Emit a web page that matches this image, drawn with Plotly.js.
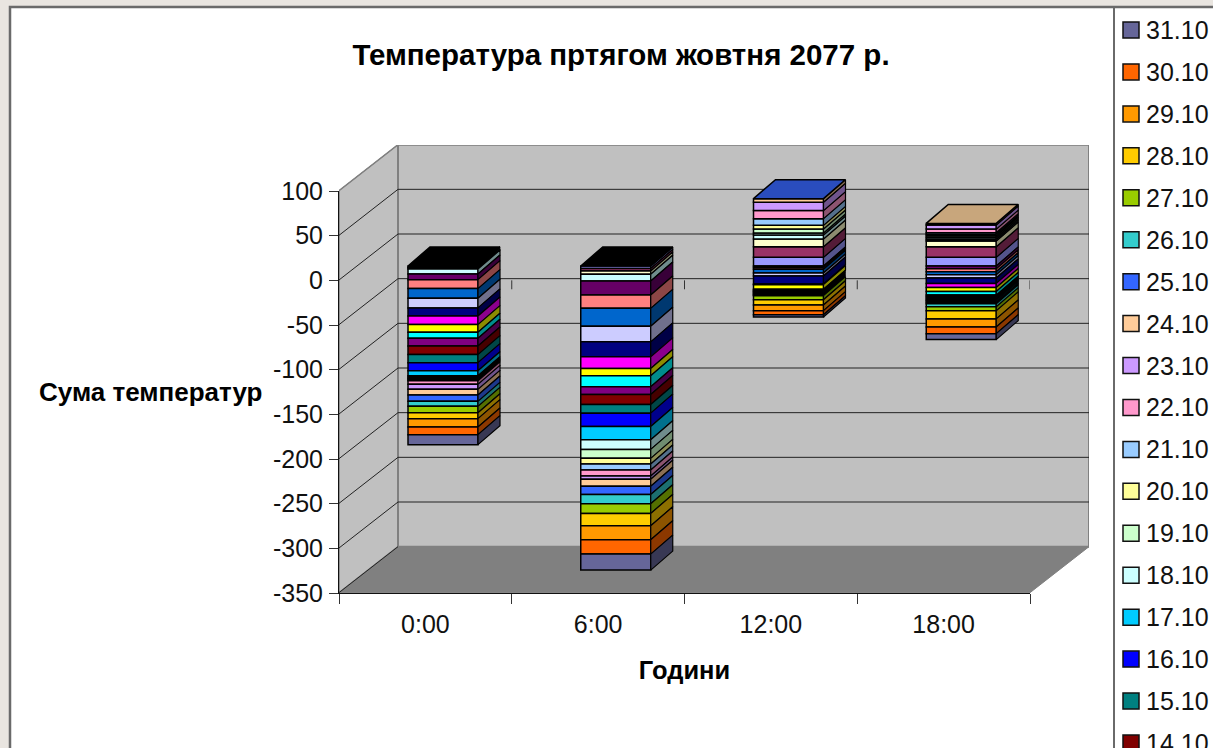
<!DOCTYPE html>
<html>
<head>
<meta charset="utf-8">
<script src="https://cdn.plot.ly/plotly-3.0.1.min.js"></script>
<style>html,body{margin:0;padding:0;overflow:hidden;background:#e9e5e0}</style>
</head>
<body>
<div id="chart" style="width:1213px;height:748px"></div>
<script>
// Daily temperatures at each observation hour, one array per day (°C).
const hours = ['0:00', '6:00', '12:00', '18:00'];
const d01 = [-1.0, -2.8, 9.7, 9.7];
const d02 = [-1.0, -2.8, 11.9, 11.9];
const d03 = [-1.4, -3.7, 8.6, 6.3];
const d04 = [-5.6, -7.5, 4.5, 1.8];
const d05 = [-6.3, -15.7, -1.8, -3.2];
const d06 = [-10, -14.9, -1.9, -3.2];
const d07 = [-10.8, -20, -4.1, -3.4];
const d08 = [-10.8, -17.5, -3.4, -3.7];
const d09 = [-9, -16.8, -9, -6];
const d10 = [-9.7, -13, -0.7, -4.5];
const d11 = [-8.6, -8.2, -5.2, -4.5];
const d12 = [-6.7, -12.3, -1, -4.1];
const d13 = [-8.6, -8.6, -0.9, -1.6];
const d14 = [-9.7, -11.2, -0.9, -1.6];
const d15 = [-9, -9.7, -0.9, -1.6];
const d16 = [-9, -14.9, -0.9, -1.6];
const d17 = [-5.6, -14.9, -0.9, -1.7];
const d18 = [-1.4, -10.8, 2.2, 1.9];
const d19 = [-1.4, -10, 4.5, 1.9];
const d20 = [-1.4, -6.3, 4.1, 1.9];
const d21 = [-1.4, -6.7, 7.5, 1.8];
const d22 = [-4.1, -6.7, 9, 4.1];
const d23 = [-5.6, -3.7, 9.3, 4.5];
const d24 = [-6.3, -7.8, 4.1, 1.9];
const d25 = [-7.1, -9.3, -0.8, -1.6];
const d26 = [-5.6, -10.4, -0.8, -3.4];
const d27 = [-7.1, -10.8, -4.5, -4.5];
const d28 = [-6.7, -13.8, -6, -9];
const d29 = [-9.3, -15.7, -6.3, -9];
const d30 = [-8.6, -16, -4.5, -7.5];
const d31 = [-11.2, -17.9, -2.6, -6.7];
const dayValues = [d01, d02, d03, d04, d05, d06, d07, d08, d09, d10, d11, d12, d13, d14, d15, d16,
  d17, d18, d19, d20, d21, d22, d23, d24, d25, d26, d27, d28, d29, d30, d31];
const dayNames = ['01.10', '02.10', '03.10', '04.10', '05.10', '06.10', '07.10', '08.10', '09.10', '10.10',
  '11.10', '12.10', '13.10', '14.10', '15.10', '16.10', '17.10', '18.10', '19.10', '20.10', '21.10',
  '22.10', '23.10', '24.10', '25.10', '26.10', '27.10', '28.10', '29.10', '30.10', '31.10'];
const dayColors = ['#9999FF', '#993366', '#FFFFCC', '#CCFFFF', '#660066', '#FF8080', '#0066CC', '#CCCCFF',
  '#000080', '#FF00FF', '#FFFF00', '#00FFFF', '#800080', '#800000', '#008080', '#0000FF', '#00CCFF',
  '#CCFFFF', '#CCFFCC', '#FFFF99', '#99CCFF', '#FF99CC', '#CC99FF', '#FFCC99', '#3366FF', '#33CCCC',
  '#99CC00', '#FFCC00', '#FF9900', '#FF6600', '#666699'];
const capColors = ['#000000', '#000000', '#2A4DBE', '#C8A67C'];
const valueTicks = [100, 50, 0, -50, -100, -150, -200, -250, -300, -350];
const valueTickText = ['100', '50', '0', '-50', '-100', '-150', '-200', '-250', '-300', '-350'];
const titleText = 'Температура пртягом жовтня 2077 р.';
const xTitleText = 'Години';
const yTitleText = 'Сума температур';

// Page geometry in pixels.
const W = 1213, H = 748;
const plotL = 339, plotR = 1089, plotT = 145, plotB = 593;
const frontR = 1030, frontT = 191;
const catPx = (frontR - plotL) / hours.length;
const unitPx = (plotB - frontT) / 450;
const barCentrePx = 443, barZeroPx = 266, frontZeroPx = 280;
const roomDepthX = 59, roomDepthY = 46;
const barDepthX = 22, barDepthY = 19;
const barWidthPx = 70;
const labelFont = {family: 'Liberation Sans', size: 25, color: '#111'};
const headFont = size => ({family: 'Liberation Sans', size: size, color: '#000', weight: 700});

const px = x => (x - plotL) / (plotR - plotL);
const py = y => (plotB - y) / (plotB - plotT);

// Oblique projection of the room into the bars' own coordinates.
const roomX = (edge, d) => edge - (barCentrePx - (plotL + catPx / 2)) / catPx + d * roomDepthX / catPx;
const roomY = (v, d) => v + (barZeroPx - frontZeroPx) / unitPx + d * roomDepthY / unitPx;
const poly = pts => ({
  type: 'path', xref: 'x', yref: 'y', layer: 'below',
  path: pts.map((p, i) => (i ? 'L' : 'M') + p[0] + ',' + p[1]).join(' ') + ' Z'
});
const eL = -0.5, eR = hours.length - 0.5, vLo = -350, vHi = 100;

const shapes = [
  // chart sheet and frame
  {type: 'rect', xref: 'paper', yref: 'paper', layer: 'below', x0: px(10), x1: px(W + 5), y0: py(7), y1: py(H + 5),
    fillcolor: '#ffffff', line: {color: '#6a6a6a', width: 2.5}},
  {type: 'line', xref: 'paper', yref: 'paper', layer: 'below', x0: px(1114), x1: px(1114), y0: py(7), y1: py(H + 5),
    line: {color: '#6a6a6a', width: 2}},
  // floor, side wall, back wall
  Object.assign(poly([[roomX(eL, 0), roomY(vLo, 0)], [roomX(eR, 0), roomY(vLo, 0)], [roomX(eR, 1), roomY(vLo, 1)], [roomX(eL, 1), roomY(vLo, 1)]]),
    {fillcolor: '#808080', line: {color: '#808080', width: 1}}),
  Object.assign(poly([[roomX(eL, 0), roomY(vLo, 0)], [roomX(eL, 0), roomY(vHi, 0)], [roomX(eL, 1), roomY(vHi, 1)], [roomX(eL, 1), roomY(vLo, 1)]]),
    {fillcolor: '#C0C0C0', line: {color: '#808080', width: 1.5}}),
  Object.assign(poly([[roomX(eL, 1), roomY(vLo, 1)], [roomX(eR, 1), roomY(vLo, 1)], [roomX(eR, 1), roomY(vHi, 1)], [roomX(eL, 1), roomY(vHi, 1)]]),
    {fillcolor: '#C0C0C0', line: {color: '#808080', width: 2}})
];
// value gridlines across the back wall and down the side wall
valueTicks.forEach(v => {
  const grid = {color: v === vHi ? '#808080' : '#222222', width: 1};
  if (v !== vLo) shapes.push({type: 'line', xref: 'x', yref: 'y', layer: 'below',
    x0: roomX(eL, 1), x1: roomX(eR, 1), y0: roomY(v, 1), y1: roomY(v, 1), line: grid});
  shapes.push({type: 'line', xref: 'x', yref: 'y', layer: 'below',
    x0: roomX(eL, 0), x1: roomX(eL, 1), y0: roomY(v, 0), y1: roomY(v, 1), line: grid});
});
// category axis ticks where it crosses zero on the front plane
for (let i = 0; i < hours.length; i++) {
  shapes.push({type: 'line', xref: 'x2', yref: 'y2', x0: i + 0.5, x1: i + 0.5, y0: 0, y1: -10,
    line: {color: '#333333', width: 1}});
}

const shade = hex => {
  const n = parseInt(hex.slice(1), 16), f = 0.55;
  return `rgb(${Math.round((n >> 16) * f)},${Math.round(((n >> 8) & 255) * f)},${Math.round((n & 255) * f)})`;
};

const traces = [];
const xIdx = hours.map((_, i) => i);
const halfW = barWidthPx / catPx / 2;
const dxC = barDepthX / catPx, dyV = barDepthY / unitPx;

// front faces: native relative stacking
dayValues.forEach((vals, s) => traces.push({
  type: 'bar', x: xIdx, y: vals, name: dayNames[s], xaxis: 'x', yaxis: 'y',
  marker: {color: dayColors[s], line: {color: '#000000', width: 1.5}}, hoverinfo: 'skip', showlegend: false
}));

// side faces and caps follow the same stacking order
const posTop = hours.map(() => 0), negTop = hours.map(() => 0);
dayValues.forEach((vals, s) => {
  const xs = [], ys = [];
  vals.forEach((v, i) => {
    const from = v >= 0 ? posTop[i] : negTop[i];
    const to = from + v;
    if (v >= 0) posTop[i] = to; else negTop[i] = to;
    const r = i + halfW;
    xs.push(r, r + dxC, r + dxC, r, r, null);
    ys.push(from, from + dyV, to + dyV, to, from, null);
  });
  traces.push({type: 'scatter', mode: 'lines', x: xs, y: ys, fill: 'toself', fillcolor: shade(dayColors[s]),
    line: {color: '#000000', width: 1.2}, xaxis: 'x', yaxis: 'y', hoverinfo: 'skip', showlegend: false});
});
hours.forEach((h, i) => {
  const l = i - halfW, r = i + halfW, top = posTop[i];
  traces.push({type: 'scatter', mode: 'lines', x: [l, r, r + dxC, l + dxC, l], y: [top, top, top + dyV, top + dyV, top],
    fill: 'toself', fillcolor: capColors[i], line: {color: '#000000', width: 1.5},
    xaxis: 'x', yaxis: 'y', hoverinfo: 'skip', showlegend: false});
});

// anchors the category labels on the front-plane axis
traces.push({type: 'scatter', mode: 'none', x: hours, y: hours.map(() => 0), xaxis: 'x2', yaxis: 'y2',
  hoverinfo: 'skip', showlegend: false});

// legend column, newest day first, as far as the sheet shows
const annotations = [{
  text: yTitleText, xref: 'paper', yref: 'paper', x: px(150), y: py(392), xanchor: 'center', yanchor: 'middle',
  showarrow: false, font: headFont(26)
}];
for (let s = dayNames.length - 1, row = 0; s >= 13; s--, row++) {
  const cy = 30 + 41.94 * row;
  shapes.push({type: 'rect', xref: 'paper', yref: 'paper', x0: px(1123), x1: px(1139), y0: py(cy - 8), y1: py(cy + 8),
    fillcolor: dayColors[s], line: {color: '#111111', width: 1.5}});
  annotations.push({text: dayNames[s], xref: 'paper', yref: 'paper', x: px(1144), y: py(cy), xanchor: 'left',
    yanchor: 'middle', showarrow: false, font: labelFont});
}

const layout = {
  width: W, height: H,
  margin: {l: plotL, r: W - plotR, t: plotT, b: H - plotB, pad: 0},
  paper_bgcolor: '#e9e5e0', plot_bgcolor: 'rgba(0,0,0,0)',
  barmode: 'relative', bargap: 1 - barWidthPx / catPx, showlegend: false,
  title: {text: titleText, x: px(621), xref: 'paper', xanchor: 'center', y: 1 - 55 / H, yref: 'container', yanchor: 'middle',
    font: headFont(29.5)},
  // bars and room live on x/y, spanning the whole projected depth
  xaxis: {domain: [0, 1], anchor: 'y', range: [(plotL - barCentrePx) / catPx, (plotR - barCentrePx) / catPx], visible: false},
  yaxis: {domain: [0, 1], anchor: 'x', range: [(barZeroPx - plotB) / unitPx, (barZeroPx - plotT) / unitPx], visible: false},
  // labelled axes sit on the front plane
  xaxis2: {domain: [0, px(frontR)], anchor: 'y2', type: 'category', categoryorder: 'array', categoryarray: hours,
    tickson: 'boundaries', range: [-0.5, hours.length - 0.5], ticks: 'outside', ticklen: 10, tickcolor: '#333',
    showgrid: false, zeroline: false, showline: true, linecolor: '#111', linewidth: 1,
    tickfont: labelFont, ticklabelstandoff: 9,
    title: {text: xTitleText, standoff: 24, font: headFont(25.5)}},
  yaxis2: {domain: [0, py(frontT)], anchor: 'x2', range: [vLo, vHi], tickvals: valueTicks, ticktext: valueTickText,
    ticks: 'outside', ticklen: 9, ticklabelstandoff: 1,
    tickcolor: '#333', showgrid: false, zeroline: false, showline: true, linecolor: '#111', linewidth: 1,
    tickfont: labelFont},
  shapes: shapes, annotations: annotations
};

Plotly.newPlot('chart', traces, layout, {displayModeBar: false, staticPlot: true});
</script>
</body>
</html>
